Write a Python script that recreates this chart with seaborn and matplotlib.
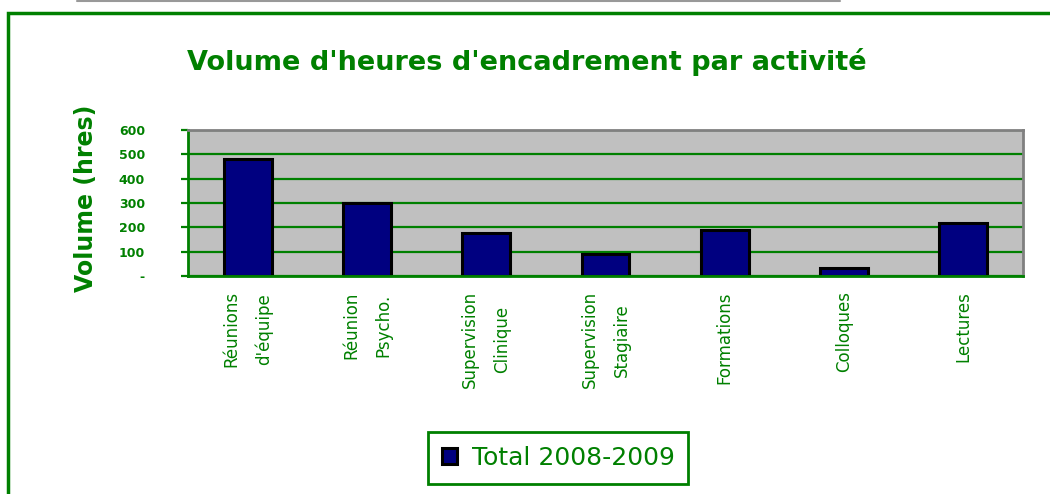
import numpy as np
import pandas as pd
import matplotlib
matplotlib.use("Agg")
import matplotlib.pyplot as plt
import seaborn as sns
from matplotlib.patches import Rectangle
from matplotlib.lines import Line2D

# data
activites = ["Réunions\nd'équipe", "Réunion\nPsycho.", "Supervision\nClinique",
             "Supervision\nStagiaire", "Formations", "Colloques", "Lectures"]
volumes = [479, 298, 176, 89, 189, 32, 217]
y_ticks = [0, 100, 200, 300, 400, 500, 600]
y_tick_labels = ["-", "100", "200", "300", "400", "500", "600"]
serie = "Total 2008-2009"

green = "#008000"
navy = "#000080"

df = pd.DataFrame({"activite": activites, "volume": volumes})

sns.set_style("white")
plt.rcParams["font.family"] = ["DejaVu Sans"]

fig = plt.figure(figsize=(10.5, 4.94), dpi=100)
ax = fig.add_axes([188 / 1050, 1 - 276 / 494, 835 / 1050, 146 / 494])

sns.barplot(data=df, x="activite", y="volume", color=navy, width=0.4,
            edgecolor="black", linewidth=2.2, saturation=1,
            label=serie, ax=ax)

ax.set_facecolor("#C0C0C0")
ax.set_axisbelow(True)
ax.set_xlim(-0.5, len(activites) - 0.5)
ax.set_ylim(0, 600)
ax.set_yticks(y_ticks)
ax.set_yticklabels(y_tick_labels, fontsize=9, fontweight="bold", color=green)
ax.yaxis.grid(True, color=green, linewidth=1.6)
ax.set_xlabel("")
ax.set_ylabel("")

# category labels centred on bars, ticks on the boundaries
ax.tick_params(axis="x", which="major", length=0, pad=11, labelsize=12,
               labelcolor=green)
for lab in ax.get_xticklabels():
    lab.set_rotation(90)
    lab.set_va("top")
    lab.set_ha("center")
    lab.set_linespacing(2.0)
ax.set_xticks(np.arange(-0.5, len(activites), 1), minor=True)
ax.tick_params(axis="x", which="minor", length=5, width=1.6, color=green,
               direction="out")
ax.tick_params(axis="y", length=5, width=1.6, color=green, direction="out",
               pad=26, left=True)

for side in ["left", "bottom"]:
    ax.spines[side].set_color(green)
    ax.spines[side].set_linewidth(2)
for side in ["top", "right"]:
    ax.spines[side].set_color("#808080")
    ax.spines[side].set_linewidth(2)

leg = ax.get_legend()
if leg is not None:
    leg.remove()
handles, labels = ax.get_legend_handles_labels()
fleg = fig.legend(handles[:1], labels[:1], loc="center",
                  bbox_to_anchor=(558 / 1050, 1 - 458 / 494),
                  fontsize=18, frameon=True, fancybox=False, framealpha=1,
                  handlelength=0.6, handleheight=0.6, handletextpad=0.6,
                  borderpad=0.55, borderaxespad=0)
fleg.get_frame().set_edgecolor(green)
fleg.get_frame().set_linewidth(2)
for t in fleg.get_texts():
    t.set_color(green)

fig.text(527 / 1050, 1 - 62 / 494, "Volume d'heures d'encadrement par activité",
         ha="center", va="center", fontsize=19.5, fontweight="bold", color=green)
fig.text(86 / 1050, 1 - 198 / 494, "Volume (hres)", rotation=90,
         ha="center", va="center", fontsize=17, fontweight="bold", color=green)

# outer chart frame and the grey line above it
fig.patches.append(Rectangle((8 / 1050, -0.2), 2, 1.2 - 13 / 494,
                             transform=fig.transFigure, fill=False,
                             edgecolor=green, linewidth=2.5))
fig.lines.append(Line2D([77 / 1050, 840 / 1050], [1 - 1 / 494, 1 - 1 / 494],
                        transform=fig.transFigure, color="#999999",
                        linewidth=1.5))

fig.savefig("out.png", dpi=100)
